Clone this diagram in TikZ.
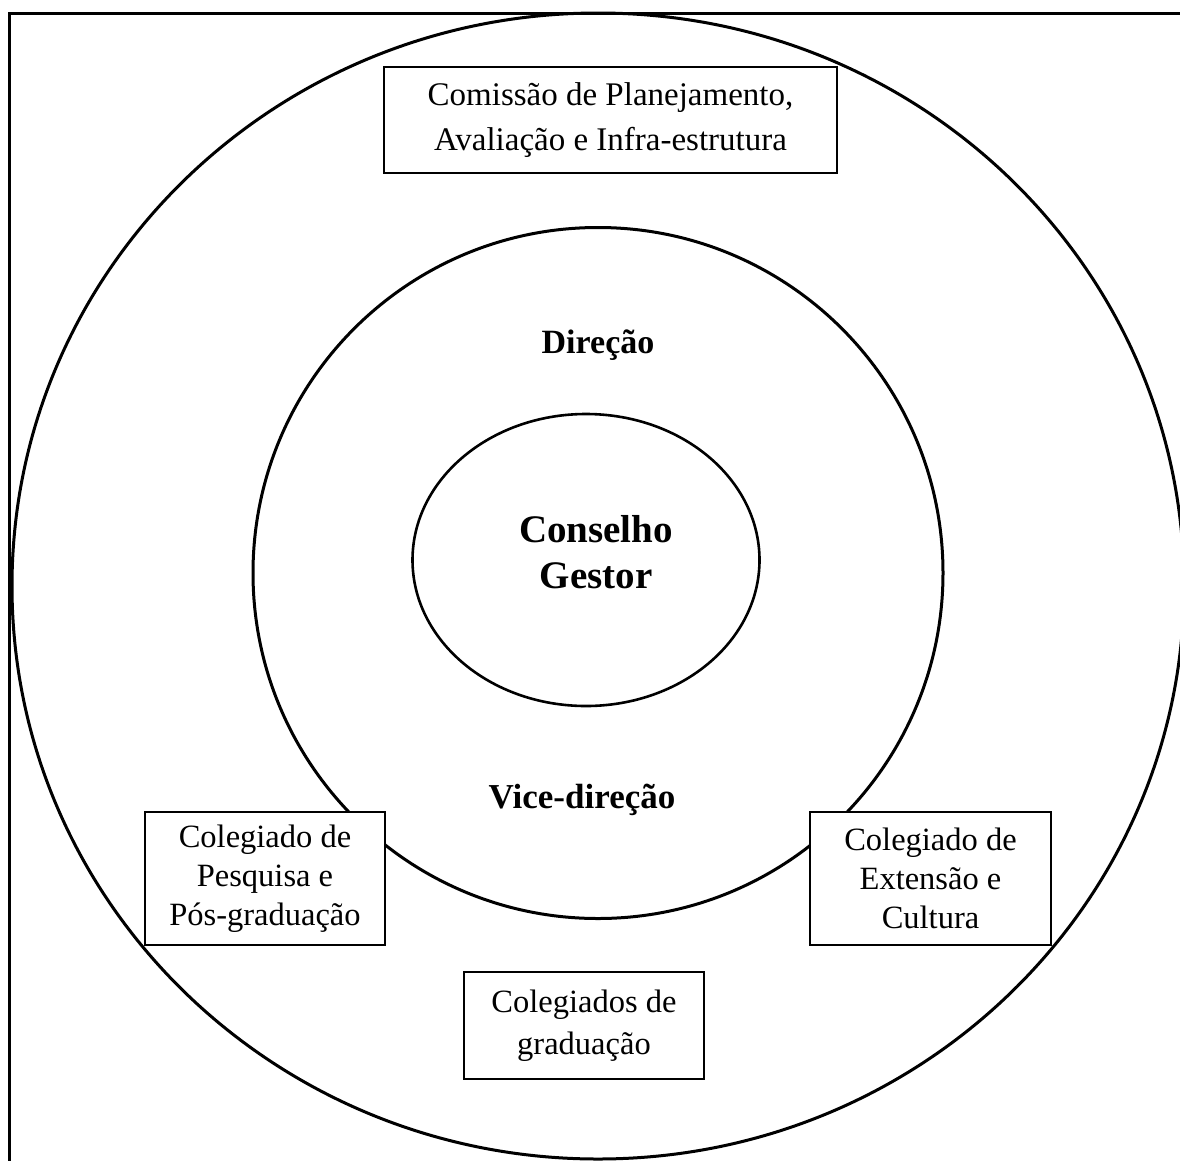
\documentclass[tikz,border=0pt]{standalone}
\usepackage{fontspec}
\setmainfont{Liberation Serif}
\usetikzlibrary{shapes.geometric}
\newcommand{\myFont}[2]{\fontsize{#1}{#2}\selectfont}

\tikzset{
  orgRing/.style={draw, ellipse, line width=3pt, inner sep=0pt},
  orgBox/.style={draw, fill=white, line width=1.8pt, align=center, inner sep=0pt},
  tierLabel/.style={font=\bfseries\myFont{34}{40}},
}

\begin{document}
\begin{tikzpicture}[x=1pt,y=-1pt]
			\useasboundingbox (0,0) rectangle (1180,1160);
			\clip (0,0) rectangle (1180,1160);
			% frame
			\draw[line width=3pt] (9.5,1200) -- (9.5,13) -- (1200,13);
			% rings
			\node[orgRing, minimum width=1172pt, minimum height=1146pt] (outer) at (598,586) {};
			\node[orgRing, minimum width=690pt, minimum height=691pt] (middle) at (598,573) {};
			\node[orgRing, line width=2.6pt, minimum width=347pt, minimum height=292pt] (inner) at (586,560) {};
			% labels of the rings
			\node[tierLabel, anchor=base] (direcao) at (598,353) {Direção};
			\node[tierLabel, font=\bfseries\myFont{39}{46}, align=center] (conselho) at (596,552) {Conselho\\Gestor};
			\node[tierLabel, font=\bfseries\myFont{35}{40}, anchor=base] (vice) at (582,808) {Vice-direção};
			% boxes
			\node[orgBox, font=\myFont{33}{45}, minimum width=453pt, minimum height=106pt] (comissao) at (610.5,120)
			  {Comissão de Planejamento,\\Avaliação e Infra-estrutura};
			\node[orgBox, font=\myFont{32.5}{39}, minimum width=240pt, minimum height=133pt] (pesquisa) at (265,878.5)
			  {Colegiado de\\Pesquisa e\\Pós-graduação};
			\node[orgBox, font=\myFont{32.5}{39}, minimum width=241pt, minimum height=133pt] (extensao) at (930.5,878.5)
			  {Colegiado de\\Extensão e\\Cultura};
			\node[orgBox, font=\myFont{32.5}{42}, minimum width=240pt, minimum height=107pt] (graduacao) at (584,1025.5)
			  {Colegiados de\\graduação};
\end{tikzpicture}
\end{document}
